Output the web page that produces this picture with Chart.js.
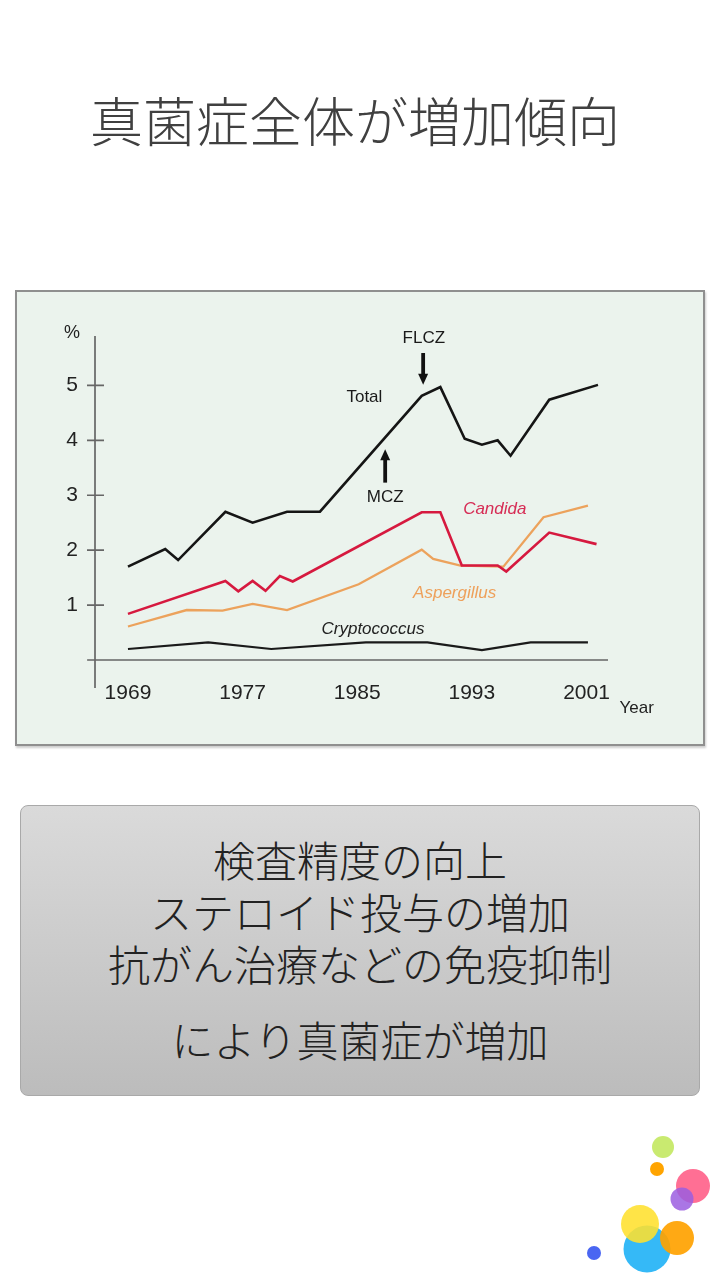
<!DOCTYPE html>
<html>
<head>
<meta charset="utf-8">
<script src="https://cdn.jsdelivr.net/npm/chart.js@4"></script>
<style>
body{margin:0;width:720px;height:1280px;background:#fff;position:relative;overflow:hidden;font-family:"Noto Sans CJK JP",sans-serif}
#title{position:absolute;left:0;top:83px;width:710px;text-align:center;font-size:53px;line-height:72px;color:#404040;font-weight:300}
#chartBox{position:absolute;left:15px;top:290px;width:686px;height:452px;border:2px solid #8f8f8f;background:#ebf3ed;box-shadow:1px 2px 2px rgba(0,0,0,.2)}
#chartBox canvas{position:absolute;left:0;top:0}
#note{position:absolute;left:20px;top:805px;width:678px;height:289px;border:1px solid #a9a9a9;border-radius:8px;background:linear-gradient(#dadada,#bcbcbc);color:#222;font-size:42px;font-weight:300;text-align:center}
#note div{position:absolute;left:0;width:100%;line-height:52px}
#dots{position:absolute;left:0;top:0}
</style>
</head>
<body>
<div id="title">真菌症全体が増加傾向</div>
<div id="chartBox"><canvas id="lineChart" width="686" height="452"></canvas></div>
<div id="note">
  <div style="top:27px">検査精度の向上</div>
  <div style="top:79px">ステロイド投与の増加</div>
  <div style="top:131px">抗がん治療などの免疫抑制</div>
  <div style="top:207px">により真菌症が増加</div>
</div>
<svg id="dots" width="720" height="1280">
  <circle cx="663" cy="1147" r="11" fill="#c3e860" opacity="0.9"/>
  <circle cx="657" cy="1169" r="7" fill="#ffa400"/>
  <circle cx="693" cy="1186" r="17" fill="#ff5f88" opacity="0.9"/>
  <circle cx="682" cy="1199" r="11.5" fill="#9b5ee0" opacity="0.85"/>
  <circle cx="647" cy="1249" r="23.5" fill="#35b9f7"/>
  <circle cx="640" cy="1224" r="19" fill="#ffe02e" opacity="0.88"/>
  <circle cx="677" cy="1238" r="17" fill="#ffa200" opacity="0.92"/>
  <circle cx="594" cy="1253" r="7" fill="#4a66f2"/>
</svg>
<script>
var yearTicks = [1969, 1977, 1985, 1993, 2001];
var percentTicks = [1, 2, 3, 4, 5];

var totalYears = [1969, 1971.6, 1972.5, 1975.8, 1977.7, 1980.1, 1982.4, 1989.5, 1990.8, 1992.5, 1993.7, 1994.8, 1995.7, 1998.4, 2001.8];
var totalValues = [1.70, 2.02, 1.82, 2.70, 2.50, 2.70, 2.70, 4.81, 4.97, 4.03, 3.92, 4.00, 3.72, 4.74, 5.01];

var candidaYears = [1969, 1975.8, 1976.7, 1977.7, 1978.6, 1979.6, 1980.5, 1989.5, 1990.8, 1992.3, 1994.8, 1995.4, 1998.4, 2001.7];
var candidaValues = [0.84, 1.44, 1.25, 1.44, 1.26, 1.53, 1.43, 2.69, 2.69, 1.72, 1.72, 1.61, 2.32, 2.11];

var aspergillusYears = [1969, 1973.1, 1975.6, 1977.7, 1980.1, 1985.1, 1989.5, 1990.3, 1992.2, 1995.2, 1998.0, 2001.1];
var aspergillusValues = [0.61, 0.91, 0.90, 1.02, 0.91, 1.38, 2.01, 1.84, 1.72, 1.70, 2.60, 2.81];

var cryptoYears = [1969, 1974.6, 1979.0, 1985.6, 1989.9, 1993.7, 1997.1, 2001.1];
var cryptoValues = [0.20, 0.32, 0.20, 0.32, 0.32, 0.18, 0.32, 0.32];

function pairs(xs, ys){
  return xs.map(function(x, i){ return {x: x, y: ys[i]}; });
}

var lineData = {
  datasets: [
    {label: "Total", data: pairs(totalYears, totalValues), borderColor: "#151515", borderWidth: 2.6},
    {label: "Candida", data: pairs(candidaYears, candidaValues), borderColor: "#d6193f", borderWidth: 2.6},
    {label: "Aspergillus", data: pairs(aspergillusYears, aspergillusValues), borderColor: "#eca25c", borderWidth: 2.3},
    {label: "Cryptococcus", data: pairs(cryptoYears, cryptoValues), borderColor: "#1a1a1a", borderWidth: 2.2}
  ]
};

var tickFont = {family: "'Liberation Sans', Arial, sans-serif", size: 21};

// axes with crossing ticks, labels and arrows, all placed through the scales
var decor = {
  id: "decor",
  beforeDatasetsDraw: function(chart){
    var c = chart.ctx, xs = chart.scales.x, ys = chart.scales.y;
    c.save();
    c.strokeStyle = "#666";
    c.lineWidth = 1.7;
    var ax = xs.getPixelForValue(1966.7);
    c.beginPath();
    c.moveTo(ax, ys.getPixelForValue(5.9));
    c.lineTo(ax, ys.getPixelForValue(-0.51));
    c.moveTo(xs.getPixelForValue(1966.15), ys.getPixelForValue(0));
    c.lineTo(xs.getPixelForValue(2002.5), ys.getPixelForValue(0));
    percentTicks.forEach(function(v){
      var py = ys.getPixelForValue(v);
      c.moveTo(ax - 8, py);
      c.lineTo(ax + 9, py);
    });
    c.stroke();
    c.restore();
  },
  afterDatasetsDraw: function(chart){
    var c = chart.ctx, xs = chart.scales.x, ys = chart.scales.y;
    function txt(s, x, y, color, italic, size){
      c.font = (italic ? "italic " : "") + size + "px 'Liberation Sans', Arial, sans-serif";
      c.fillStyle = color;
      c.textAlign = "center";
      c.textBaseline = "middle";
      c.fillText(s, xs.getPixelForValue(x), ys.getPixelForValue(y));
    }
    function arrow(x, from, to){
      var px = xs.getPixelForValue(x), y0 = ys.getPixelForValue(from), y1 = ys.getPixelForValue(to);
      var dir = y1 > y0 ? 1 : -1;
      c.strokeStyle = "#111";
      c.fillStyle = "#111";
      c.lineWidth = 3.8;
      c.beginPath();
      c.moveTo(px, y0);
      c.lineTo(px, y1 - dir * 8);
      c.stroke();
      c.beginPath();
      c.moveTo(px - 5, y1 - dir * 11);
      c.lineTo(px + 5, y1 - dir * 11);
      c.lineTo(px, y1);
      c.closePath();
      c.fill();
    }
    c.save();
    txt("%", 1965.1, 5.96, "#222", false, 18);
    txt("Year", 2004.5, -0.88, "#222", false, 17);
    txt("Total", 1985.5, 4.78, "#1a1a1a", false, 17);
    txt("FLCZ", 1989.65, 5.85, "#1a1a1a", false, 17);
    txt("MCZ", 1986.95, 2.97, "#1a1a1a", false, 17);
    txt("Candida", 1994.6, 2.75, "#d62c55", true, 17);
    txt("Aspergillus", 1991.8, 1.22, "#eea05a", true, 17);
    txt("Cryptococcus", 1986.1, 0.56, "#222", true, 17);
    arrow(1989.6, 5.59, 5.01);
    arrow(1986.95, 3.23, 3.84);
    c.restore();
  }
};

var lineOptions = {
  responsive: false,
  animation: false,
  layout: {padding: {left: 18, right: 95, top: 44, bottom: 24}},
  elements: {line: {tension: 0, fill: false}, point: {radius: 0}},
  plugins: {legend: {display: false}, tooltip: {enabled: false}},
  scales: {
    x: {
      type: "linear",
      min: 1966.7,
      max: 2002.5,
      grid: {display: false, drawTicks: false},
      border: {display: false},
      afterBuildTicks: function(s){ s.ticks = yearTicks.map(function(v){ return {value: v}; }); },
      afterFit: function(s){ s.height = 60; },
      ticks: {autoSkip: false, maxRotation: 0, padding: 21, color: "#222", font: tickFont,
        callback: function(v){ return String(v); }}
    },
    y: {
      min: 0,
      max: 5.9,
      grid: {display: false, drawTicks: false},
      border: {display: false},
      afterBuildTicks: function(s){ s.ticks = percentTicks.map(function(v){ return {value: v}; }); },
      afterFit: function(s){ s.width = 60; },
      ticks: {padding: 17, color: "#222", font: tickFont,
        callback: function(v){ return String(v); }}
    }
  }
};

var ctx = document.getElementById("lineChart").getContext("2d");
new Chart(ctx, {type: "line", data: lineData, options: lineOptions, plugins: [decor]});
</script>
</body>
</html>
